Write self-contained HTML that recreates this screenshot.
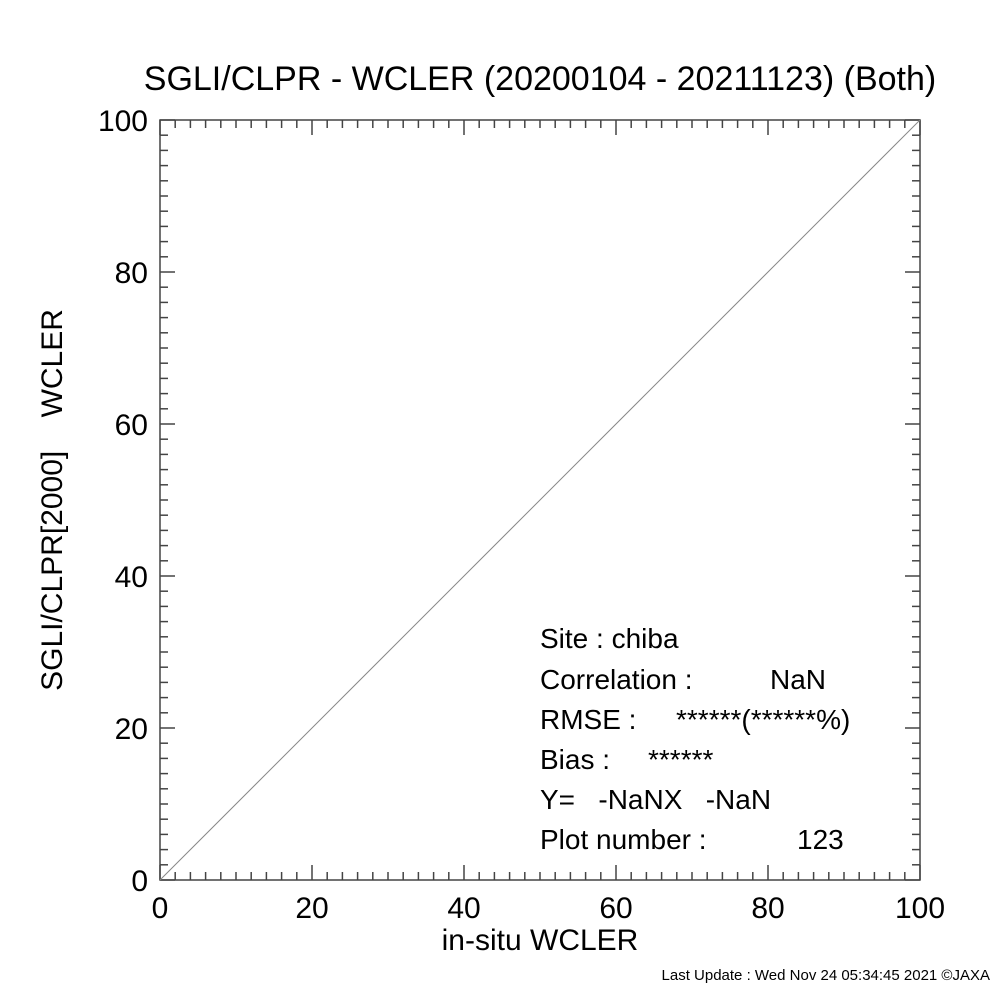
<!DOCTYPE html>
<html><head><meta charset="utf-8"><style>
body{margin:0;background:#fff;}
svg{display:block;font-family:"Liberation Sans",sans-serif;}
</style></head><body>
<svg id="chart" width="1000" height="1000" viewBox="0 0 1000 1000">
<text x="540" y="90" font-size="34" text-anchor="middle">SGLI/CLPR - WCLER (20200104 - 20211123) (Both)</text>
<rect x="160" y="120" width="760" height="760" fill="none" stroke="#444" stroke-width="1.5"/>
<g id="ticks"></g>
<line id="oneline" stroke="#888" stroke-width="1"/>
<text x="540" y="950" font-size="30" text-anchor="middle">in-situ WCLER</text>
<text transform="translate(62,500) rotate(-90)" font-size="30" text-anchor="middle">SGLI/CLPR[2000]&#160;&#160;&#160;&#160;WCLER</text>
<g font-size="28">
<text x="540" y="648">Site : chiba</text>
<text x="540" y="689">Correlation :</text>
<text x="770" y="689">NaN</text>
<text x="540" y="729">RMSE :</text>
<text x="676" y="729">******(******%)</text>
<text x="540" y="769">Bias :</text>
<text x="648" y="769">******</text>
<text x="540" y="809">Y=&#160;&#160;&#160;-NaNX&#160;&#160;&#160;-NaN</text>
<text x="540" y="849">Plot number :</text>
<text x="797" y="849">123</text>
</g>
<text x="990" y="980" font-size="15" text-anchor="end">Last Update : Wed Nov 24 05:34:45 2021  ©JAXA</text>
</svg>
<script>
const xTicks=[0,20,40,60,80,100];
const yTicks=[0,20,40,60,80,100];
const xMin=0,xMax=100,yMin=0,yMax=100;
const L=160,R=920,T=120,B=880;
const sx=v=>L+(v-xMin)/(xMax-xMin)*(R-L);
const sy=v=>B-(v-yMin)/(yMax-yMin)*(B-T);
const NS="http://www.w3.org/2000/svg";
const g=document.getElementById('ticks');
function ln(x1,y1,x2,y2){const l=document.createElementNS(NS,'line');l.setAttribute('x1',x1);l.setAttribute('y1',y1);l.setAttribute('x2',x2);l.setAttribute('y2',y2);l.setAttribute('stroke','#444');l.setAttribute('stroke-width','1.5');


g.appendChild(l);}
for(let v=0;v<=100;v+=2){const maj=v%20===0;const len=maj?15:8;
const x=sx(v);ln(x,B,x,B-len);ln(x,T,x,T+len);
const y=sy(v);ln(L,y,L+len,y);ln(R,y,R-len,y);}
xTicks.forEach(v=>{const t=document.createElementNS(NS,'text');t.setAttribute('x',sx(v));t.setAttribute('y',B+38);t.setAttribute('font-size','30');t.setAttribute('text-anchor','middle');t.textContent=v;


g.appendChild(t);});
yTicks.forEach(v=>{const t=document.createElementNS(NS,'text');t.setAttribute('x',L-12);t.setAttribute('y',sy(v)+11);t.setAttribute('font-size','30');t.setAttribute('text-anchor','end');t.textContent=v;


g.appendChild(t);});
const o=document.getElementById('oneline');
o.setAttribute('x1',sx(0));o.setAttribute('y1',sy(0));o.setAttribute('x2',sx(100));o.setAttribute('y2',sy(100));
</script>
</body></html>
